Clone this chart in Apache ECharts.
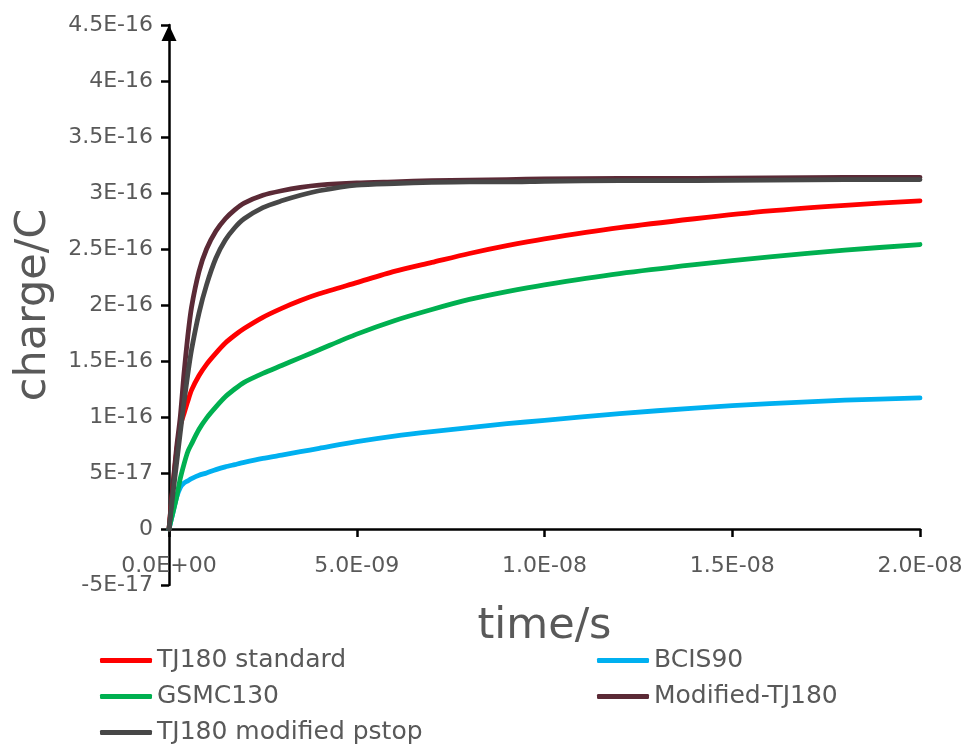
<!DOCTYPE html>
<html>
<head>
<meta charset="utf-8">
<script src="https://cdn.jsdelivr.net/npm/echarts@6/dist/echarts.min.js"></script>
<style>
html,body{margin:0;padding:0;background:#fff;}
#chart{width:971px;height:745px;}
</style>
</head>
<body>
<div id="chart"></div>
<script>
// time in ns, charge in units of 1E-16 C
const timeNs = [0, 0.1, 0.2, 0.3, 0.4, 0.5, 0.6, 0.8, 1.0, 1.25, 1.5, 1.75, 2.0, 2.5, 3.0, 3.5, 4.0, 5.0, 6.0, 7.0, 8.0, 9.0, 10, 12, 14, 16, 18, 20];
const tj180Standard = [0, 0.36, 0.68, 0.92, 1.03, 1.14, 1.24, 1.37, 1.47, 1.57, 1.66, 1.73, 1.79, 1.89, 1.97, 2.04, 2.10, 2.20, 2.30, 2.38, 2.46, 2.53, 2.59, 2.69, 2.77, 2.84, 2.89, 2.93];
const bcis90 = [0, 0.14, 0.28, 0.37, 0.41, 0.43, 0.45, 0.48, 0.50, 0.53, 0.555, 0.575, 0.595, 0.63, 0.66, 0.69, 0.72, 0.78, 0.83, 0.87, 0.905, 0.94, 0.97, 1.03, 1.08, 1.12, 1.15, 1.17];
const gsmc130 = [0, 0.14, 0.28, 0.45, 0.58, 0.69, 0.76, 0.89, 0.99, 1.09, 1.18, 1.25, 1.31, 1.39, 1.46, 1.53, 1.60, 1.74, 1.86, 1.96, 2.05, 2.12, 2.18, 2.28, 2.36, 2.43, 2.49, 2.54];
const modifiedTj180 = [0, 0.38, 0.72, 1.0, 1.39, 1.72, 1.98, 2.3, 2.5, 2.66, 2.77, 2.85, 2.91, 2.98, 3.02, 3.05, 3.07, 3.09, 3.10, 3.11, 3.115, 3.12, 3.125, 3.13, 3.13, 3.135, 3.14, 3.14];
const tj180Pstop = [0, 0.30, 0.58, 0.86, 1.13, 1.38, 1.60, 1.93, 2.18, 2.42, 2.58, 2.69, 2.77, 2.87, 2.93, 2.98, 3.02, 3.07, 3.085, 3.095, 3.10, 3.10, 3.105, 3.11, 3.11, 3.115, 3.12, 3.12];

const seriesNames = ['TJ180 standard', 'BCIS90', 'GSMC130', 'Modified-TJ180', 'TJ180 modified pstop'];
const seriesValues = [tj180Standard, bcis90, gsmc130, modifiedTj180, tj180Pstop];
const seriesColors = ['#ff0000', '#00b0f0', '#00b050', '#5b2a36', '#474747'];

const xTickLabels = ['0.0E+00', '5.0E-09', '1.0E-08', '1.5E-08', '2.0E-08'];
const yTickLabels = ['-5E-17', '0', '5E-17', '1E-16', '1.5E-16', '2E-16', '2.5E-16', '3E-16', '3.5E-16', '4E-16', '4.5E-16'];
const xMin = 0, xMax = 20, xStep = 5;
const yMin = -0.5, yMax = 4.5, yStep = 0.5;

const FONT = 'DejaVu Sans';
const TXT = '#595959';

// legend layout: [series name, left, top]
const legendSlots = [
  ['TJ180 standard', 100, 648],
  ['BCIS90', 597, 648],
  ['GSMC130', 100, 684],
  ['Modified-TJ180', 597, 684],
  ['TJ180 modified pstop', 100, 720]
];

const chart = echarts.init(document.getElementById('chart'), null, {renderer: 'canvas'});
const option = {
  animation: false,
  backgroundColor: '#ffffff',
  grid: {left: 169, right: 51, top: 25, bottom: 160, containLabel: false},
  legend: legendSlots.map(function (s) {
    return {
      data: [s[0]], left: s[1], top: s[2],
      orient: 'horizontal', icon: 'roundRect', padding: 0,
      itemWidth: 52, itemHeight: 5,
      textStyle: {fontFamily: FONT, fontSize: 25, color: TXT, lineHeight: 22}
    };
  }),
  xAxis: {
    type: 'value', min: xMin, max: xMax, interval: xStep,
    position: 'bottom', offset: -56,
    name: 'time/s', nameLocation: 'middle', nameGap: 77, nameMoveOverlap: false,
    nameTextStyle: {fontFamily: FONT, fontSize: 43, color: TXT, lineHeight: 42},
    axisLine: {show: true, onZero: false, lineStyle: {color: '#000', width: 2.5}},
    axisTick: {show: true, inside: false, length: 8, lineStyle: {color: '#000', width: 2.5}},
    splitLine: {show: false},
    axisLabel: {
      margin: 26, fontFamily: FONT, fontSize: 22, color: TXT,
      formatter: function (v) { return xTickLabels[Math.round((v - xMin) / xStep)]; }
    }
  },
  yAxis: {
    type: 'value', min: yMin, max: yMax, interval: yStep,
    name: 'charge/C', nameLocation: 'middle', nameGap: 114, nameMoveOverlap: false,
    nameTextStyle: {fontFamily: FONT, fontSize: 43, color: TXT, lineHeight: 42},
    axisLine: {show: true, onZero: false, symbol: ['none', 'triangle'], symbolSize: [15, 16], symbolOffset: [0, -8],
      lineStyle: {color: '#000', width: 2.5}},
    axisTick: {show: true, inside: false, length: 8, lineStyle: {color: '#000', width: 2.5}},
    splitLine: {show: false},
    axisLabel: {
      margin: 16, fontFamily: FONT, fontSize: 22, color: TXT,
      formatter: function (v) { return yTickLabels[Math.round((v - yMin) / yStep)]; }
    }
  },
  series: seriesNames.map(function (name, i) {
    return {
      name: name, type: 'line', showSymbol: false, symbol: 'none',
      smooth: 0.25,
      color: seriesColors[i],
      lineStyle: {width: 4.8, color: seriesColors[i], cap: 'round', join: 'round'},
      data: timeNs.map(function (t, k) { return [t, seriesValues[i][k]]; })
    };
  })
};
chart.setOption(option);
</script>
</body>
</html>
